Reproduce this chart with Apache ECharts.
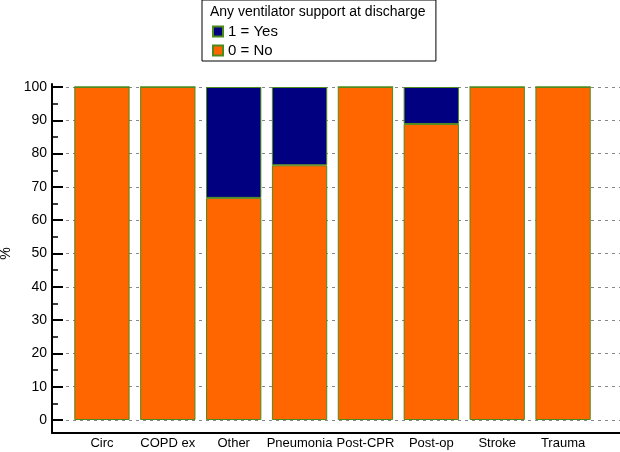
<!DOCTYPE html>
<html>
<head>
<meta charset="utf-8">
<script src="https://cdn.jsdelivr.net/npm/echarts@6/dist/echarts.min.js"></script>
<style>
  html, body { margin: 0; padding: 0; background: #fff; }
  #chart { width: 620px; height: 452px; }
</style>
</head>
<body>
<div id="chart"></div>
<script>
// data
var categories = ['Circ', 'COPD ex', 'Other', 'Pneumonia', 'Post-CPR', 'Post-op', 'Stroke', 'Trauma']
var noValues = [100, 100, 66.7, 76.5, 100, 88.9, 100, 100]
var yesValues = [0, 0, 33.3, 23.5, 0, 11.1, 0, 0]
var legendTitle = 'Any ventilator support at discharge'

var font = '"Liberation Sans", Arial, sans-serif'
var chart = echarts.init(document.getElementById('chart'), null, { renderer: 'canvas' })

chart.setOption({
  animation: false,
  backgroundColor: '#fff',
  textStyle: { fontFamily: font },
  title: {
    text: legendTitle,
    left: 210,
    top: 5,
    padding: 0,
    textStyle: { fontSize: 14, fontWeight: 'normal', color: '#000', fontFamily: font }
  },
  legend: {
    data: ['1 = Yes', '0 = No'],
    orient: 'vertical',
    left: 202,
    top: 0,
    padding: [24, 158, 3, 10],
    borderColor: '#000',
    borderWidth: 1,
    backgroundColor: 'transparent',
    itemWidth: 10,
    itemHeight: 10,
    itemGap: 4,
    icon: 'rect',
    textStyle: { fontSize: 15, color: '#000', fontFamily: font }
  },
  grid: [
    // y scale, ticks and dashed lines
    { left: 52, right: 0, top: 87, bottom: 32, containLabel: false, outerBoundsMode: 'none' },
    // bars
    { left: 69, right: 24, top: 87, bottom: 32, containLabel: false, outerBoundsMode: 'none' },
    // axis lines, a bit longer than the scale
    { left: 52, right: 0, top: 84, bottom: 19, containLabel: false, outerBoundsMode: 'none' }
  ],
  xAxis: [
    { gridIndex: 0, type: 'category', data: categories, show: false },
    {
      gridIndex: 1,
      type: 'category',
      data: categories,
      offset: 13,
      axisLine: { show: false },
      axisTick: { show: true, inside: true, length: 12, alignWithLabel: true, lineStyle: { color: '#000', width: 2 } },
      axisLabel: { margin: 4, fontSize: 13, color: '#000', interval: 0, fontFamily: font },
      splitLine: { show: false }
    },
    {
      gridIndex: 2,
      type: 'value',
      min: 0,
      max: 1,
      axisLine: { show: true, onZero: false, lineStyle: { color: '#000', width: 2 } },
      axisTick: { show: false },
      axisLabel: { show: false },
      splitLine: { show: false }
    }
  ],
  yAxis: [
    {
      gridIndex: 0,
      type: 'value',
      min: 0,
      max: 100,
      interval: 10,
      name: '%',
      nameLocation: 'middle',
      nameRotate: 90,
      nameGap: 37,
      nameTextStyle: { fontSize: 14, color: '#000', fontFamily: font },
      axisLine: { show: false },
      axisTick: { show: true, inside: true, length: 11, lineStyle: { color: '#000', width: 2 } },
      minorTick: { show: true, splitNumber: 2, length: 6, lineStyle: { color: '#000', width: 1.5 } },
      axisLabel: { margin: 5, fontSize: 14, color: '#000', fontFamily: font },
      splitLine: { show: true, lineStyle: { color: '#888', type: [3, 4], width: 1 } }
    },
    { gridIndex: 1, type: 'value', min: 0, max: 100, show: false },
    {
      gridIndex: 2,
      type: 'value',
      min: 0,
      max: 1,
      axisLine: { show: true, onZero: false, lineStyle: { color: '#000', width: 2 } },
      axisTick: { show: false },
      axisLabel: { show: false },
      splitLine: { show: false }
    }
  ],
  series: [
    {
      name: '0 = No',
      type: 'bar',
      stack: 'vent',
      xAxisIndex: 1,
      yAxisIndex: 1,
      barCategoryGap: '16%',
      data: noValues,
      itemStyle: { color: '#FF6600', borderColor: '#4f8a1c', borderWidth: 1 }
    },
    {
      name: '1 = Yes',
      type: 'bar',
      stack: 'vent',
      xAxisIndex: 1,
      yAxisIndex: 1,
      barCategoryGap: '16%',
      data: yesValues,
      itemStyle: { color: '#000080', borderColor: '#4f8a1c', borderWidth: 1 }
    }
  ]
})
</script>
</body>
</html>
